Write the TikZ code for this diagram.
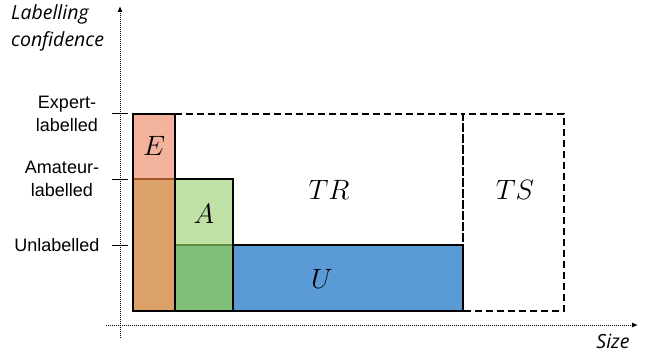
\documentclass[tikz,border=0pt]{standalone}
\usepackage{fontspec}
\setmainfont{Liberation Sans}
\newfontfamily\axfont{Open Sans}
\usetikzlibrary{arrows.meta}
\definecolor{cE}{RGB}{243,178,156}
\definecolor{cEA}{RGB}{220,160,105}
\definecolor{cA}{RGB}{192,225,166}
\definecolor{cAU}{RGB}{127,191,122}
\definecolor{cU}{RGB}{91,155,213}
\definecolor{cEline}{RGB}{165,85,40}
\definecolor{cAline}{RGB}{95,140,60}
\newcommand{\setlab}[1]{\scalebox{1.35}{\fontsize{20.74}{24}\selectfont$#1$}}
\tikzset{
  axis/.style={dash pattern=on 0.8pt off 1.2pt, line width=1pt, -{Latex[length=6pt,width=5pt]}},
  tick/.style={line width=1pt},
  solidbox/.style={line width=2.6pt},
  dashbox/.style={line width=2.2pt, dash pattern=on 7pt off 4pt},
  lvl/.style={font=\fontsize{18}{23}\selectfont, align=center},
  ax/.style={font=\axfont\itshape\fontsize{19.5}{27}\selectfont, align=left},
  set/.style={inner sep=0pt}
}
\begin{document}
\begin{tikzpicture}[x=1pt,y=-1pt]
\useasboundingbox (0,0) rectangle (649,353);
% axes
\coordinate (yb) at (120,338);
\coordinate (yt) at (120,6);
\coordinate (xl) at (106,325);
\coordinate (xr) at (638,325);
\draw[axis] (yb) -- (yt);
\draw[axis] (xl) -- (xr);
% ticks
\foreach \y/\n in {114/te,179/ta,245/tu}{
  \coordinate (\n1) at (112,\y); \coordinate (\n2) at (128,\y);
  \draw[tick] (\n1) -- (\n2);
}
% fills
\fill[cE] (133,114) rectangle (175,179);
\fill[cEA] (133,179) rectangle (175,311);
\fill[cA] (175,179) rectangle (233,245);
\fill[cAU] (175,245) rectangle (233,311);
\fill[cU] (233,245) rectangle (463,311);
\draw[cEline, line width=1.8pt] (133,179) -- (175,179);
\draw[cAline, line width=1.8pt] (175,245) -- (233,245);
% dashed outlines
\draw[dashbox] (175,114) -- (463,114) -- (463,311);
\draw[dashbox] (463,114) rectangle (564,311);
% solid boxes
\draw[solidbox] (133,114) rectangle (175,311);
\draw[solidbox] (175,179) rectangle (233,311);
\draw[solidbox] (233,245) rectangle (463,311);
% labels
\node[set] (E) at (154,146) {\setlab{E}};
\node[set] (A) at (204,214) {\setlab{A}};
\node[set] (U) at (322,279) {\setlab{U}};
\node[set] (TR) at (329,190) {\setlab{TR}};
\node[set] (TS) at (515,190) {\setlab{TS}};
\node[ax, anchor=north west, inner sep=0pt] (ylab) at (11,4) {Labelling\\confidence};
\node[ax, inner sep=0pt] (xlab) at (613,341) {Size};
\node[lvl] (lE) at (67,114) {Expert-\\labelled};
\node[lvl] (lA) at (62,179) {Amateur-\\labelled};
\node[lvl, anchor=east] (lU) at (103,245) {Unlabelled};
\end{tikzpicture}
\end{document}
